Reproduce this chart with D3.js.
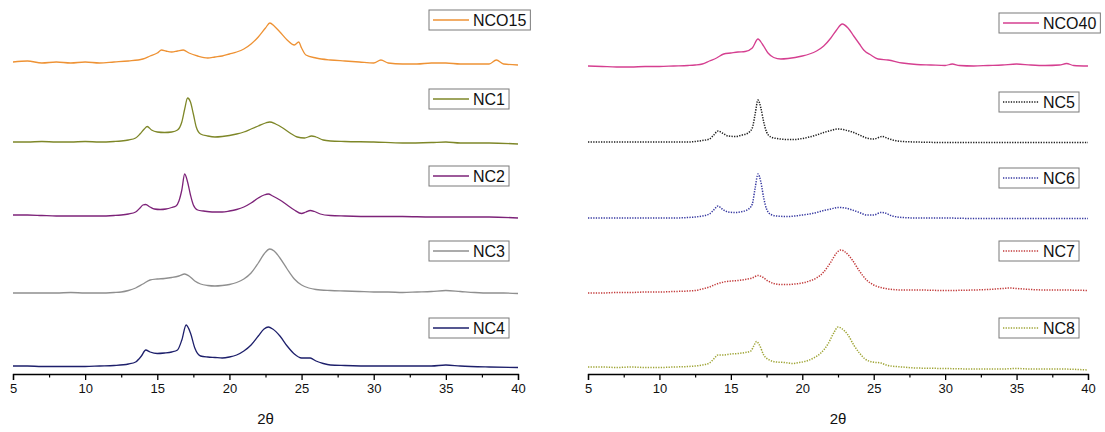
<!DOCTYPE html>
<html>
<head>
<meta charset="utf-8">
<script src="https://cdn.jsdelivr.net/npm/d3@7"></script>
<style>
  body { margin: 0; background: #fff; }
  text { font-family: "Liberation Sans", Arial, sans-serif; }
</style>
</head>
<body>
<div id="chart"></div>
<script>
const width = 1105, height = 432;

// ---- data: [2theta, intensity above the curve's own baseline] ----
const NCO15 = [[5,0],[6,1],[7,-1],[8,0],[9,-1],[10,0],[11,-1],[12,0],[13,1],[14,3],[14.5,6],[15,9],[15.3,12],[15.6,11],[16,10],[16.4,11],[16.8,12],[17.2,9],[17.8,6],[18.5,4],[19,5],[19.5,6],[20,8],[20.5,10],[21,13],[21.5,18],[22,25],[22.5,34],[22.8,39],[23.1,36],[23.5,30],[24,22],[24.5,17],[24.8,20],[25,14],[25.3,7],[26,4],[27,2],[28,1],[29,0],[30,-1],[30.5,2],[31,-1],[32,-2],[33,-2],[34,-1],[35,-1],[36,-2],[37,-2],[38,-2],[38.5,2],[39,-2],[40,-3]];
const NC1 = [[5,0],[6,0],[7,0.5],[8,0],[9,0],[10,0.5],[11,0],[12,0.5],[12.5,1],[13,2],[13.5,4],[13.8,8],[14.1,13],[14.3,15.5],[14.6,12],[15,10],[15.5,9.5],[16,10],[16.4,12],[16.7,20],[16.9,33],[17.1,44],[17.3,40],[17.5,28],[17.7,15],[18,8],[18.5,6],[19,5],[19.5,5.5],[20,6.5],[20.5,8],[21,10],[21.5,13],[22,16],[22.5,19],[22.8,20],[23.2,18],[23.7,14],[24.2,9],[24.7,5],[25.2,4],[25.7,6],[26,5],[26.5,2],[27,1],[28,0.5],[30,0],[32,-1],[34,-0.5],[35,0],[36,-1],[38,-1],[40,-2]];
const NC2 = [[5,0],[6,0],[7,-0.5],[8,-1],[9,-1],[10,-1],[11,-1],[12,-0.5],[12.5,0],[13,1],[13.5,3],[13.8,7],[14,10],[14.2,10.5],[14.5,8],[14.8,6],[15.2,5.5],[15.6,6],[16,7.5],[16.3,9],[16.5,14],[16.7,25],[16.9,41],[17.1,33],[17.3,20],[17.5,10],[17.8,5],[18.2,4],[18.8,3],[19.5,3],[20,4],[20.5,5.5],[21,8],[21.5,12],[22,17],[22.4,20],[22.7,21],[23,19],[23.5,15],[24,10],[24.5,5],[25,1.5],[25.3,3],[25.6,4.5],[25.9,3.5],[26.3,1],[27,-0.5],[28,-1],[30,-1.5],[32,-1.5],[34,-2],[36,-2],[38,-2],[40,-3]];
const NC3 = [[5,0],[6,0],[7,0],[8,0],[9,0.5],[10,0],[11,0],[12,0.5],[12.5,1],[13,2.5],[13.5,5],[14,9],[14.5,13],[15,14],[15.5,14.5],[16,15.5],[16.5,17],[16.9,19],[17.2,17],[17.6,12],[18,9],[18.5,7.5],[19,7],[19.5,7.5],[20,8.5],[20.5,10.5],[21,14],[21.5,20],[22,30],[22.4,39],[22.8,44],[23.1,42],[23.5,35],[24,24],[24.5,14],[25,8],[25.5,5],[26,3.5],[27,2.5],[28,2],[29,1.5],[30,1],[31,1],[32,0.5],[33,1],[34,1.5],[35,2.5],[36,1.5],[37,0.5],[38,0],[39,0],[40,-0.5]];
const NC4 = [[5,0],[6,0],[7,-0.5],[8,-0.5],[9,-0.5],[10,-0.5],[11,0],[12,0.5],[13,2],[13.5,4],[13.9,10],[14.2,16],[14.5,14],[15,12.5],[15.5,13],[16,14],[16.4,16],[16.7,26],[17,41],[17.3,33],[17.6,18],[18,10],[18.5,9],[19,8.5],[19.5,8],[20,9],[20.5,11],[21,15],[21.5,21],[22,30],[22.4,37],[22.7,39],[23,37],[23.5,30],[24,20],[24.5,12],[25,8],[25.6,8],[26,5],[26.5,2.5],[27,1],[28,0.5],[30,0],[32,0],[34,0],[35,1],[36,0],[38,-1],[40,-1.5]];

const NCO40 = [[5,0],[6,-0.5],[7,-1],[8,-1],[9,-0.5],[10,-0.5],[11,0],[12,0.5],[12.5,1],[13,2],[13.5,5],[14,8],[14.5,12],[15,13],[15.5,14],[16,14.5],[16.5,18],[16.9,27],[17.2,22],[17.6,13],[18,8.5],[18.5,7],[19,7.5],[19.5,8.5],[20,10],[20.5,12],[21,15],[21.5,20],[22,28],[22.4,36],[22.8,42],[23.2,38],[23.6,30],[24,22],[24.3,16],[24.8,11],[25.3,7],[26,6],[27,3],[28,1.5],[29,1],[30,0.5],[30.5,2],[31,0.5],[32,0],[33,0.5],[34,1],[35,2],[36,1],[37,0.5],[38,1],[38.5,2.5],[39,0.5],[40,0]];
const NC5 = [[5,0],[7,0],[9,0],[11,0],[12,0],[12.5,0.5],[13,1.5],[13.5,3],[13.8,7],[14.1,11],[14.4,9],[14.8,6],[15.3,5.5],[15.8,7],[16.2,9],[16.5,14],[16.7,28],[16.9,42],[17.1,34],[17.3,20],[17.5,10],[17.8,5],[18.2,3.5],[19,2.5],[19.5,2.5],[20,3.5],[20.5,5],[21,7],[21.5,9.5],[22,11.5],[22.5,13],[23,12],[23.5,10],[24,7],[24.5,4],[25,3],[25.6,5.5],[26,3.5],[26.5,1.5],[27,0.5],[28,0],[30,-0.5],[32,-0.5],[34,-0.5],[36,-0.5],[38,-0.5],[40,-0.5]];
const NC6 = [[5,0],[7,0],[9,0],[11,0],[12,0.5],[12.5,1],[13,2],[13.5,4],[13.8,8],[14.1,12],[14.4,9],[14.8,6],[15.3,5.5],[15.8,6.5],[16.2,8.5],[16.5,14],[16.7,30],[16.9,44],[17.1,36],[17.3,20],[17.5,9],[17.8,3.5],[18.2,2],[19,1.5],[19.5,2],[20,3],[20.5,4],[21,5.5],[21.5,7.5],[22,9],[22.5,10.5],[23,10],[23.5,8],[24,5.5],[24.5,3],[25,3],[25.5,5.5],[25.8,5],[26.2,2.5],[27,0.5],[28,0],[30,0],[32,-0.5],[34,-0.5],[36,-0.5],[38,-0.5],[40,-0.5]];
const NC7 = [[5,0],[6,0],[7,0.5],[8,0.5],[9,1],[10,1],[11,1.5],[12,2],[12.5,2.5],[13,4],[13.5,6],[14,9],[14.5,11],[15,12],[15.5,12.5],[16,13.5],[16.5,15],[16.9,17.5],[17.2,16],[17.6,12],[18,9.5],[18.5,8.5],[19,8.5],[19.5,9],[20,10],[20.5,12],[21,15],[21.5,21],[22,31],[22.4,40],[22.7,43],[23,41],[23.5,33],[24,22],[24.5,13],[25,8],[25.5,5.5],[26,4],[27,3],[28,3],[30,2.5],[32,3],[33,3.5],[34,4.5],[34.5,5],[35,4.5],[36,3.5],[37,3],[38,3],[40,2.5]];
const NC8 = [[5,0],[6,0],[7,-0.5],[8,0],[9,-0.5],[10,-0.5],[11,0],[12,0.5],[12.5,1],[13,2],[13.5,4],[13.8,8],[14.1,12],[14.5,12],[15,13],[15.5,13.5],[16,14.5],[16.4,16],[16.6,21],[16.8,25.5],[17,22],[17.3,12],[17.7,7],[18.2,5],[18.8,4.5],[19.3,3.5],[19.8,4.5],[20.3,6],[20.8,9],[21.3,14],[21.8,23],[22.2,34],[22.5,40],[22.8,38],[23.2,32],[23.6,22],[24,14],[24.4,8],[24.9,5],[25.5,4],[26,1.5],[27,0],[28,-1],[30,-1.5],[32,-2],[34,-2],[35,-1.5],[36,-2],[38,-2],[40,-3]];

// names, vertical offsets (a.u.), colours, per panel (top to bottom)
const leftNames = ["NCO15", "NC1", "NC2", "NC3", "NC4"];
const leftSeries = [NCO15, NC1, NC2, NC3, NC4];
const leftOffsets = [312, 232, 159, 81, 8];
const leftColors = ["#ee9234", "#7e8728", "#7d2379", "#8f8f8f", "#1d1f6b"];

const rightNames = ["NCO40", "NC5", "NC6", "NC7", "NC8"];
const rightSeries = [NCO40, NC5, NC6, NC7, NC8];
const rightOffsets = [308, 232, 156, 81, 7];
const rightColors = ["#d53f90", "#1e1e1e", "#3537a0", "#c23a3a", "#9ea434"];
const rightDotted = [false, true, true, true, true];

const xTicks = [5, 10, 15, 20, 25, 30, 35, 40];
const xMinor = [7.5, 12.5, 17.5, 22.5, 27.5, 32.5, 37.5];

const svg = d3.select("#chart")
	.append("svg")
	.attr("width", width)
	.attr("height", height);

const axisY = 374;
const y = d3.scaleLinear()
	.domain([0, 370])
	.range([axisY, axisY - 370]);

function drawPanel(x0, x1, names, series, offsets, colors, dotted, legendX, legendTops) {
	const x = d3.scaleLinear().domain([5, 40]).range([x0, x1]);
	const g = svg.append("g");

	// x axis
	const axis = g.append("g")
		.attr("transform", `translate(0,${axisY})`)
		.call(d3.axisBottom(x).tickValues(xTicks).tickSize(6).tickPadding(4).tickFormat(d3.format("d")));
	axis.select(".domain").attr("stroke", "#000").attr("stroke-width", 1.3);
	axis.selectAll(".tick line").attr("stroke-width", 1.3);
	axis.selectAll(".tick text")
		.attr("font-size", 13)
		.attr("font-family", "Liberation Sans, Arial, sans-serif")
		.attr("fill", "#111");
	g.append("g")
		.attr("transform", `translate(0,${axisY})`)
		.call(d3.axisBottom(x).tickValues(xMinor).tickSize(3.5).tickFormat(""))
		.call(s => s.select(".domain").remove())
		.selectAll(".tick line").attr("stroke-width", 1.2);

	g.append("text")
		.attr("x", (x0 + x1) / 2)
		.attr("y", 424)
		.attr("text-anchor", "middle")
		.attr("font-size", 15)
		.attr("fill", "#111")
		.text("2θ");

	// curves
	series.forEach((s, i) => {
		const line = d3.line()
			.x(d => x(d[0]))
			.y(d => y(offsets[i] + d[1]))
			.curve(d3.curveMonotoneX);
		g.append("path")
			.datum(s)
			.attr("d", line)
			.attr("fill", "none")
			.attr("stroke", colors[i])
			.attr("stroke-width", dotted[i] ? 1.5 : 1.3)
			.attr("stroke-dasharray", dotted[i] ? "1.3,1.3" : null);

		// legend box
		const lg = g.append("g").attr("transform", `translate(${legendX},${legendTops[i]})`);
		const rect = lg.append("rect")
			.attr("height", 20)
			.attr("fill", "#fff")
			.attr("stroke", "#7a7a7a")
			.attr("stroke-width", 1);
		lg.append("line")
			.attr("x1", 4).attr("x2", 40)
			.attr("y1", 10).attr("y2", 10)
			.attr("stroke", colors[i])
			.attr("stroke-width", dotted[i] ? 1.5 : 1.3)
			.attr("stroke-dasharray", dotted[i] ? "1.3,1.3" : null);
		const t = lg.append("text")
			.attr("x", 44)
			.attr("y", 16)
			.attr("font-size", 16)
			.attr("fill", "#111")
			.text(names[i]);
		const w = t.node().getComputedTextLength();
		rect.attr("width", 44 + w + 4);
	});
}

drawPanel(13, 518, leftNames, leftSeries, leftOffsets, leftColors,
	[false, false, false, false, false], 429, [10, 89, 166, 241, 318]);
drawPanel(588, 1088, rightNames, rightSeries, rightOffsets, rightColors,
	rightDotted, 999, [13, 92, 168, 241, 318]);
</script>
</body>
</html>
